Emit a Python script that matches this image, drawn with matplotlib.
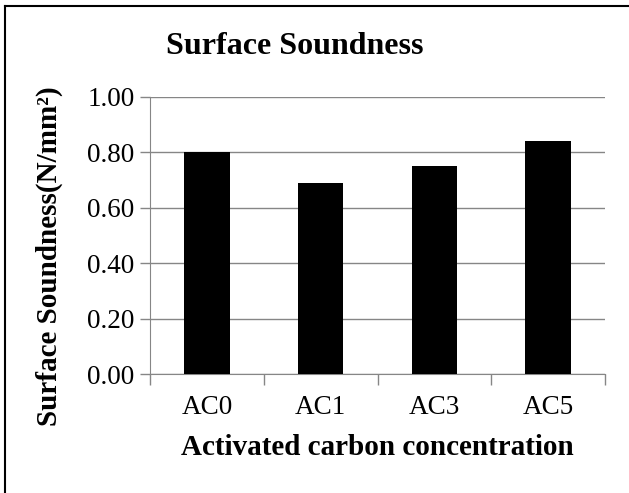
import numpy as np
import matplotlib.pyplot as plt
from matplotlib.lines import Line2D

categories = ['AC0', 'AC1', 'AC3', 'AC5']
values = [0.80, 0.69, 0.75, 0.84]
yticks = [0.0, 0.2, 0.4, 0.6, 0.8, 1.0]

plt.rcParams['font.family'] = ['Liberation Serif', 'DejaVu Serif']

W, H = 629, 493
fig = plt.figure(figsize=(W / 100, H / 100), dpi=100)
ax = fig.add_axes([150 / W, 1 - 374 / H, 455 / W, (374 - 97) / H])

grid_col = '#868686'
x = np.arange(len(categories))
ax.bar(x, values, width=0.4, color='black', zorder=3)

ax.set_xlim(-0.5, len(categories) - 0.5)
ax.set_ylim(0, 1.0)
ax.set_yticks(yticks)
ax.set_yticklabels([f'{v:.2f}' for v in yticks], fontsize=19.5)
ax.set_xticks(x)
ax.set_xticklabels(categories, fontsize=19.5)
ax.tick_params(axis='x', length=0, pad=15)
ax.tick_params(axis='y', length=7, color=grid_col, width=1, pad=4)
# category boundary ticks
ax.set_xticks(np.arange(len(categories) + 1) - 0.5, minor=True)
ax.tick_params(axis='x', which='minor', length=8, color=grid_col, width=1)

ax.yaxis.grid(True, color=grid_col, linewidth=1)
ax.set_axisbelow(True)
for s in ['top', 'right']:
    ax.spines[s].set_visible(False)
ax.spines['left'].set_color(grid_col)
ax.spines['bottom'].set_color(grid_col)

ax.set_xlabel('Activated carbon concentration', fontsize=21, fontweight='bold', labelpad=10)
ax.set_ylabel('Surface Soundness(N/mm²)', fontsize=21, fontweight='bold')
ax.yaxis.set_label_coords(-0.191, 0.426)
fig.text(295 / W, 1 - 47 / H, 'Surface Soundness', fontsize=23, fontweight='bold',
         ha='center', va='center')

# outer frame (only top and left visible)
fig.add_artist(Line2D([5 / W, 1], [1 - 6 / H, 1 - 6 / H], color='black', linewidth=1.5))
fig.add_artist(Line2D([5 / W, 5 / W], [0, 1 - 6 / H], color='black', linewidth=1.5))

fig.savefig('out.png', dpi=100)
